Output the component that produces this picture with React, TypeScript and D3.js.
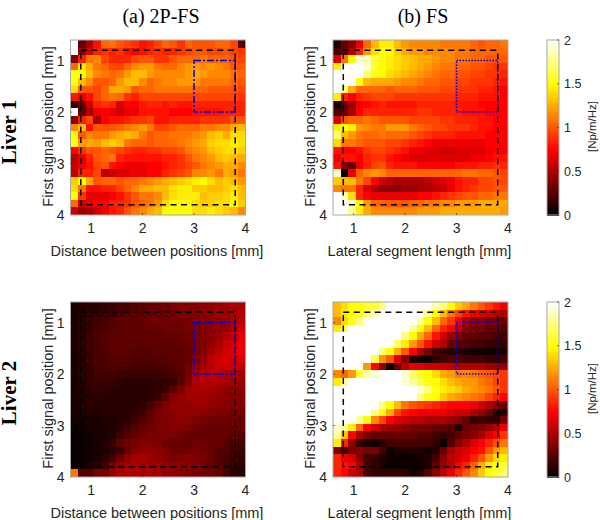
import React from "react";
import * as d3 from "d3";

const W = [2, 0];
const liver1A: number[][] = [
[2,.3,.5,.8,1.05,1.1,1,.95,.9,.8,.85,.95,1.05,1,.9,1.05,1,1,1,1.05,1.05,.95,.25],
[2,.4,.6,.85,.9,.85,.9,.8,.75,.8,.85,.9,.85,.85,.9,.95,1,1,.95,.95,1,.95,.9],
[.4,.85,1.1,1.15,.95,.85,.85,.85,.95,1,1,.9,.9,1,1.05,1.05,1.05,1.1,1.05,1.05,1.05,1,.95],
[1.05,1.45,1.25,1.1,1.05,.95,.95,1.05,1.15,1.2,1.2,1.1,1.05,1.05,1.15,1.2,1.2,1.15,1.2,1.15,1.1,1,1],
[1.55,1.5,1.3,1.15,1.1,1.05,1.1,1.2,1.3,1.3,1.2,1.15,1.15,1.15,1.15,1.2,1.25,1.2,1.15,1.15,1.15,1.1,1.05],
[1.55,1.3,1.15,1,1,1.05,1.2,1.3,1.3,1.15,1.05,1.1,1.15,1.15,1.2,1.2,1.2,1.1,1.1,1.1,1.1,1.05,1],
[1.4,1,1,.95,1.05,1.25,1.25,1.2,1,1.05,1.05,1.1,1.1,1.1,1.1,1.1,1.05,1.05,1,1,1,1,.95],
[.8,.7,.8,.95,1.05,1.1,1.05,.9,.85,.95,.95,.95,.95,.95,.95,.95,.95,.95,.95,.95,.95,.95,.9],
[.15,.3,.6,.85,.9,.85,.65,.75,.75,.8,.85,.85,.8,.85,.8,.8,.85,.85,.85,.85,.85,.85,.85],
[2,.3,.5,.7,.75,.7,.6,.7,.7,.8,.8,.8,.8,.75,.75,.75,.8,.8,.8,.8,.85,.85,.85],
[.4,.85,.95,.5,.75,.8,.8,.85,.9,.9,.95,.8,.8,.85,.85,.85,.85,.9,.9,.9,.9,1,1],
[1.15,1.3,.8,1,1,1,1.05,1.1,1.15,1.2,1.1,.95,.95,1,1.05,1.05,1.05,1.1,1.1,1.15,1.15,1.25,1.3],
[1.5,1,1.15,1.1,1.1,1.2,1.25,1.3,1.25,1.1,1,1.05,1.05,1.1,1.1,1.1,1.15,1.2,1.3,1.35,1.25,1.4,1.4],
[1.55,1.2,1.25,1.2,1.3,1.35,1.3,1.1,1.05,1.05,1,1.05,1.05,1.05,1.1,1.15,1.2,1.25,1.35,1.4,1.4,1.45,1.4],
[.75,.9,1,1,1.05,1,.95,.9,.85,.85,.9,.9,.95,.95,1,1.1,1.15,1.2,1.3,1.35,1.4,1.4,1.35],
[.55,.7,.85,1,1.05,1.1,.85,.8,.8,.8,.8,.8,.85,.85,.9,1,1.1,1.15,1.2,1.3,1.35,1.3,1.25],
[.6,.7,.8,.95,1,.8,.75,.7,.7,.7,.75,.75,.8,.85,.9,.95,1,1.1,1.15,1.2,1.25,1.25,1.15],
[.55,.85,.85,.95,.55,.6,.65,.65,.7,.7,.75,.75,.85,.9,.95,1,1.15,1.15,1.2,1.1,1.25,1.2,1.1],
[1.35,1.5,1.25,1,1.05,1.05,1,1.05,1.05,1.1,1.15,1.2,1.25,1.3,1.35,1.4,1.45,1.5,1.4,1.3,1.35,1.3,1.2],
[1.4,1.1,.8,.8,.85,.85,.95,1.05,1.15,1.25,1.25,1.3,1.3,1.4,1.45,1.45,1.35,1.35,1.3,1.3,1.35,1.4,1.3],
[1.5,.9,.7,.7,.7,.75,.8,.9,1,1.1,1.1,1.15,1.3,1.4,1.45,1.45,1.45,1.3,1.35,1.35,1.4,1.45,1.3],
[1.05,.6,.7,.75,.75,.85,.85,.9,1,1.05,1.1,1.2,1.4,1.5,1.5,1.5,1.4,1.35,1.35,1.4,1.4,1.5,1.35],
[.6,.45,.5,.6,.7,.8,.85,1,1.1,1.15,1.25,1.3,1.5,1.5,1.5,1.5,1.4,1.4,1.45,1.4,1.35,1.3,1.15],
];
const liver1B: number[][] = [
[.1,.3,.4,.7,1.05,1.3,1.45,1.45,1.3,1.2,1.15,1.15,1.15,1.15,1.1,1.1,1.1,1.1,1.05,1,1.05,1.05,1.1],
[.2,.3,.55,.85,1.2,1.4,1.5,1.5,1.35,1.25,1.2,1.2,1.15,1.15,1.15,1.15,1.1,1.1,1.05,1.05,1.05,1.05,1.05],
[.65,1.1,1.5,1.9,1.85,1.6,1.5,1.45,1.4,1.35,1.3,1.25,1.25,1.2,1.15,1.15,1.1,1.1,1.05,1.05,1,1,1],
[1.45,2,2,2,1.9,1.6,1.5,1.45,1.4,1.35,1.3,1.25,1.2,1.15,1.1,1.1,1.05,1.05,1,1,.95,.9,.9],
[2,2,2,2,1.75,1.55,1.5,1.4,1.35,1.3,1.25,1.2,1.15,1.1,1.05,1.05,1,1,.95,.95,.9,.9,.85],
[2,2,2,1.55,1.3,1.25,1.25,1.25,1.2,1.15,1.15,1.1,1.05,1.05,1,1,.95,.95,.9,.9,.9,.85,.8],
[2,1.7,1.25,1.05,1.05,1.05,1.05,1,1.05,1.05,1.05,1,1,1,.95,.95,.9,.9,.9,.85,.85,.8,.75],
[1.45,.85,.75,.85,.9,.95,.95,.95,.9,.9,.9,.9,.9,.9,.9,.9,.85,.85,.85,.8,.8,.8,.75],
[.05,.3,.45,.7,.75,.8,.85,.8,.8,.8,.8,.85,.85,.85,.85,.85,.8,.8,.8,.75,.75,.75,.75],
[.2,.3,.5,.75,.85,.85,.85,.85,.85,.85,.85,.9,.9,.85,.85,.85,.85,.8,.8,.8,.75,.75,.75],
[.65,1,1.05,1.05,1.1,1.05,1,1,1,1,.95,.95,.95,.95,.9,.9,.85,.85,.85,.8,.8,.75,.75],
[1.45,1.5,1.45,1.2,1.15,1.1,1.1,1.2,1.2,1.2,1.1,1.05,1,.95,.95,.9,.9,.9,.85,.8,.8,.75,.75],
[1.7,1.3,1.2,1.1,1.05,1.05,1.1,1.05,1.05,1.05,1,.95,.9,.85,.85,.85,.8,.8,.8,.8,.75,.75,.75],
[1.4,1.1,1.1,1.05,1,1,1,.95,.95,.9,.85,.8,.75,.7,.7,.7,.7,.7,.7,.7,.75,.75,.75],
[.8,.75,.75,.8,.9,.95,.95,.9,.85,.8,.7,.7,.65,.65,.6,.6,.65,.65,.65,.65,.7,.75,.75],
[.7,.8,.8,.75,.85,.9,.9,.8,.75,.7,.65,.65,.65,.65,.65,.65,.65,.65,.7,.7,.75,.8,.8],
[.8,.4,.3,.7,.85,.95,1,.85,.8,.8,.8,.75,.75,.75,.75,.75,.8,.8,.8,.85,.85,.9,.85],
[1.9,.05,.7,1.05,1.15,1.2,1.15,1.05,1.05,1.05,1.05,1.05,1.05,1.05,1.05,1.05,1.05,1.1,1.1,1.05,1.05,1,.95],
[1.35,1.3,1.3,1.1,.95,.75,.6,.55,.5,.5,.5,.5,.55,.6,.65,.7,.8,.85,.85,.95,.95,1,.95],
[1.15,1.1,1.1,.85,.65,.5,.4,.4,.4,.45,.45,.5,.5,.55,.6,.7,.8,.85,.9,.95,.95,1,1],
[2,1.85,1.4,.85,.75,.7,.7,.7,.7,.7,.7,.75,.75,.8,.85,.9,.95,1,1,1.05,1.05,1.1,1.1],
[2,2,1.9,1.5,1.2,1.05,1.05,1,1,1,1.05,1.05,1.1,1.1,1.15,1.15,1.2,1.2,1.2,1.25,1.25,1.25,1.25],
[2,2,1.8,1.45,1.25,1.15,1.15,1.15,1.15,1.15,1.15,1.2,1.2,1.2,1.25,1.25,1.25,1.25,1.25,1.25,1.25,1.25,1.2],
];
const liver2A: number[][] = [
[.08,.1,.12,.13,.15,.16,.2,.22,.25,.27,.3,.3,.33,.35,.38,.38,.38,.42,.42,.45,.47,.5,.5],
[.08,.1,.13,.15,.18,.18,.22,.25,.27,.28,.3,.3,.33,.33,.35,.35,.38,.4,.42,.45,.47,.5,.52],
[.08,.12,.15,.2,.22,.25,.27,.28,.28,.3,.3,.32,.33,.33,.33,.35,.37,.38,.42,.42,.45,.5,.55],
[.08,.12,.15,.2,.23,.25,.27,.28,.28,.28,.3,.3,.32,.32,.33,.35,.35,.37,.42,.42,.45,.5,.6],
[.08,.13,.18,.23,.25,.27,.27,.28,.28,.28,.28,.28,.3,.3,.3,.32,.35,.37,.4,.45,.52,.58,.68],
[.08,.13,.18,.22,.25,.27,.27,.27,.27,.27,.27,.28,.28,.28,.3,.3,.33,.37,.42,.5,.58,.62,.7],
[.08,.12,.17,.22,.23,.27,.27,.27,.25,.25,.25,.27,.27,.27,.27,.3,.33,.38,.48,.55,.62,.65,.7],
[.08,.12,.17,.22,.23,.25,.25,.25,.23,.23,.25,.25,.25,.27,.27,.3,.37,.43,.55,.6,.65,.62,.65],
[.08,.12,.15,.2,.22,.23,.23,.22,.2,.2,.2,.22,.22,.25,.27,.33,.42,.48,.55,.6,.6,.6,.55],
[.08,.12,.15,.2,.2,.2,.18,.18,.17,.17,.17,.18,.2,.22,.25,.35,.47,.52,.55,.52,.5,.5,.47],
[.08,.12,.15,.17,.17,.17,.15,.13,.13,.13,.13,.15,.15,.18,.27,.38,.5,.53,.52,.5,.47,.47,.45],
[.08,.1,.13,.15,.15,.13,.12,.12,.12,.12,.12,.13,.17,.27,.38,.45,.5,.5,.48,.45,.42,.4,.4],
[.08,.1,.12,.13,.13,.12,.12,.12,.12,.12,.13,.17,.28,.38,.43,.48,.47,.47,.45,.42,.4,.38,.38],
[.08,.1,.12,.12,.12,.12,.12,.12,.13,.15,.22,.3,.37,.42,.43,.43,.45,.45,.42,.42,.38,.38,.37],
[.07,.08,.1,.1,.12,.12,.12,.13,.13,.2,.28,.33,.38,.4,.43,.43,.42,.4,.38,.37,.35,.33,.33],
[.05,.07,.08,.08,.1,.1,.12,.13,.18,.25,.3,.35,.37,.4,.42,.4,.38,.35,.33,.33,.33,.33,.3],
[.03,.05,.07,.08,.08,.1,.13,.2,.25,.3,.33,.35,.37,.38,.38,.35,.33,.32,.3,.3,.3,.3,.3],
[.02,.03,.05,.07,.08,.1,.18,.25,.3,.33,.35,.35,.37,.35,.33,.3,.3,.3,.3,.3,.3,.27,.25],
[.02,.03,.05,.07,.1,.17,.27,.33,.35,.37,.38,.37,.33,.3,.3,.3,.32,.32,.3,.28,.25,.22,.2],
[.02,.03,.05,.08,.1,.13,.17,.3,.38,.42,.42,.4,.38,.33,.32,.33,.35,.33,.3,.25,.23,.2,.18],
[.02,.03,.05,.08,.12,.2,.3,.42,.48,.48,.45,.42,.38,.35,.38,.4,.37,.35,.3,.25,.2,.18,.15],
[.03,.05,.1,.13,.2,.35,.45,.48,.5,.48,.48,.47,.42,.4,.42,.4,.37,.33,.3,.25,.2,.15,.12],
[1.1,.25,.25,.35,.35,.45,.5,.52,.52,.5,.5,.48,.42,.42,.4,.38,.35,.33,.33,.28,.2,.12,.12],
];
const liver2B: number[][] = [
[1.3,1.4,1.5,1.5,1.6,1.6,1.75,2,2,2,2,2,2,1.85,1.75,1.5,1.35,1.25,1.1,1,.9,.8,.7],
[1.3,1.45,1.5,1.55,1.7,1.85,2,2,2,2,2,2,1.8,1.5,1.3,1.1,.95,.8,.7,.65,.6,.55,.5],
[1.15,1.4,1.55,1.75,2,2,2,2,2,2,2,1.8,1.5,1.3,1.05,.9,.75,.5,.4,.4,.35,.35,.3],
[1.45,1.65,2,2,2,2,2,2,2,2,1.8,1.5,1.3,1.05,.85,.75,.55,.4,.35,.35,.3,.3,.25],
[2,2,2,2,2,2,2,2,2,1.75,1.5,1.25,1.05,.8,.6,.45,.35,.3,.3,.25,.25,.2,.2],
[2,2,2,2,2,2,2,2,1.7,1.45,1.2,1,.8,.6,.5,.3,.25,.25,.2,.2,.15,.15,.15],
[2,2,2,2,2,2,1.75,1.5,1.25,1,.75,.5,.35,.2,.15,.12,.12,.1,.05,.05,.05,.07,.08],
[2,2,2,2,2,1.65,1.2,1,.65,.4,.1,.05,.05,.15,.2,.25,.25,.2,.2,.2,.15,.15,.2],
[2,2,2,2,1.2,.75,.4,.03,.3,.55,.65,.65,.6,.6,.6,.55,.5,.5,.5,.5,.45,.45,.4],
[1.15,1.05,1.2,1.6,1.85,1.9,2,2,2,1.9,1.7,1.55,1.5,1.4,1.25,1.2,1.1,1.15,1.1,1.05,1,.95,.9],
[1.45,1.8,2,2,2,2,2,2,2,1.9,1.8,1.65,1.55,1.5,1.4,1.3,1.25,1.2,1.2,1.1,1.05,.95,.9],
[2,2,2,2,2,2,2,2,2,2,2,1.9,1.75,1.55,1.45,1.4,1.35,1.25,1.2,1.15,1.1,1,.9],
[2,2,2,2,2,2,2,2,2,2,2,1.75,1.55,1.5,1.35,1.25,1.2,1.15,1.1,1.05,.95,.85,.75],
[2,2,2,2,2,2,1.75,1.5,1.3,1.1,1,.95,.9,.85,.8,.75,.75,.75,.7,.6,.5,.4,.3],
[2,2,2,2,2,1.75,1.5,1.25,.95,.8,.75,.7,.7,.7,.7,.65,.6,.6,.5,.4,.3,.1,.1],
[2,2,2,1.8,1.5,1.15,.95,.75,.65,.6,.55,.55,.5,.5,.5,.45,.4,.3,.15,.2,.15,.15,.35],
[1.9,1.8,1.45,1.05,.75,.6,.5,.45,.45,.4,.35,.35,.35,.3,.3,.25,.1,.3,.35,.4,.45,.55,.7],
[1.8,1.35,.75,.5,.35,.3,.3,.3,.3,.3,.3,.25,.25,.2,.15,.2,.3,.35,.4,.5,.65,.75,.9],
[1.45,.85,.4,.15,.08,.05,.12,.2,.2,.2,.2,.2,.2,.15,.02,.25,.4,.5,.65,.75,.85,1,1.1],
[.35,.2,.35,.4,.35,.35,.2,.05,.1,.1,.1,.1,.05,.1,.3,.5,.6,.65,.75,.8,1,1.2,1.3],
[.85,.7,.6,.4,.2,.15,.1,.05,.05,.02,.05,.05,.1,.2,.4,.55,.6,.7,.85,1,1.2,1.4,1.45],
[.85,.8,.75,.5,.2,.15,.1,.05,.05,.05,.05,.05,.1,.3,.45,.55,.75,.85,1.05,1.25,1.45,1.55,1.6],
[.85,.75,.6,.5,.2,.15,.15,.15,.15,.15,.05,.1,.25,.4,.55,.7,.85,1,1.15,1.35,1.5,1.6,1.7],
];

const axisTicks = [1, 2, 3, 4];
const colorTicks = [0, 0.5, 1, 1.5, 2];
const colorTickLabels = ["0", "0.5", "1", "1.5", "2"];
const columnTitles = ["(a) 2P-FS", "(b) FS"];
const rowTitles = ["Liver 1", "Liver 2"];
const xLabels = ["Distance between positions [mm]", "Lateral segment length [mm]"];
const yLabel = "First signal position [mm]";
const unitLabel = "[Np/m/Hz]";
const domainMm = [0.6, 4];
const dashedBox = [0.8, 3.8, 0.8, 3.8];
const blueBox = [3, 3.8, 1, 2];
const hotStops = [0, 0.75, 1.5, 2];
const hotColors = ["#000000", "#ff0000", "#ffff00", "#ffffff"];

const SANS = "'Liberation Sans', Arial, sans-serif";
const SERIF = "'Liberation Serif', 'Times New Roman', serif";
const TEXT = "#262626";
const FRAME = "#a8a8a8";
const SIZE = 175;

const color = d3.scaleLinear<string>().domain(hotStops).range(hotColors).clamp(true);

function Heat({ data, x0, y0, xLabel, dash }: { data: number[][]; x0: number; y0: number; xLabel: string; dash: string }) {
  const x = d3.scaleLinear().domain(domainMm).range([x0, x0 + SIZE]);
  const y = d3.scaleLinear().domain(domainMm).range([y0, y0 + SIZE]);
  const bx = d3.scaleBand<number>().domain(d3.range(data[0].length)).range([x0, x0 + SIZE]);
  const by = d3.scaleBand<number>().domain(d3.range(data.length)).range([y0, y0 + SIZE]);
  return (
    <g>
      <g shapeRendering="crispEdges">
        {data.flatMap((row, r) =>
          row.map((v, c) => (
            <rect key={r + "-" + c} x={bx(c)} y={by(r)} width={bx.bandwidth() + 0.4} height={by.bandwidth() + 0.4} fill={color(v)} />
          ))
        )}
      </g>
      <rect x={x0} y={y0} width={SIZE} height={SIZE} fill="none" stroke={FRAME} strokeWidth={1} />
      {axisTicks.slice(0, 3).map((t) => (
        <g key={t} stroke={TEXT} strokeWidth={0.6}>
          <line x1={x(t)} x2={x(t)} y1={y0 + SIZE} y2={y0 + SIZE - 2} />
          <line x1={x0} x2={x0 + 2} y1={y(t)} y2={y(t)} />
        </g>
      ))}
      <rect
        x={x(dashedBox[0])}
        y={y(dashedBox[2])}
        width={x(dashedBox[1]) - x(dashedBox[0])}
        height={y(dashedBox[3]) - y(dashedBox[2])}
        fill="none"
        stroke="#000"
        strokeWidth={1.5}
        strokeDasharray="6 4.5"
      />
      <rect
        x={x(blueBox[0])}
        y={y(blueBox[2])}
        width={x(blueBox[1]) - x(blueBox[0])}
        height={y(blueBox[3]) - y(blueBox[2])}
        fill="none"
        stroke="#0000f0"
        strokeWidth={1.5}
        strokeDasharray={dash}
      />
      {axisTicks.map((t) => (
        <text key={"x" + t} x={x(t)} y={y0 + SIZE + 18} textAnchor="middle" fontFamily={SANS} fontSize={14} fill={TEXT}>
          {t}
        </text>
      ))}
      {axisTicks.map((t) => (
        <text key={"y" + t} x={x0 - 6} y={y(t) + 5} textAnchor="end" fontFamily={SANS} fontSize={14} fill={TEXT}>
          {t}
        </text>
      ))}
      <text x={x0 + SIZE / 2 - 1} y={y0 + SIZE + 41} textAnchor="middle" fontFamily={SANS} fontSize={14.5} fill={TEXT}>
        {xLabel}
      </text>
      <text
        transform={`translate(${x0 - 18},${y0 + SIZE / 2 - 1}) rotate(-90)`}
        textAnchor="middle"
        fontFamily={SANS}
        fontSize={14.5}
        fill={TEXT}
      >
        {yLabel}
      </text>
    </g>
  );
}

function ColorBar({ x0, y0 }: { x0: number; y0: number }) {
  const barW = 12;
  const y = d3.scaleLinear().domain([0, 2]).range([y0 + SIZE, y0]);
  const levels = d3.range(64).map((i) => ((i + 0.5) / 64) * 2);
  const h = SIZE / 64;
  return (
    <g>
      <g shapeRendering="crispEdges">
        {levels.map((v) => (
          <rect key={v} x={x0} y={y(v) - h / 2} width={barW} height={h + 0.5} fill={color(v)} />
        ))}
      </g>
      <rect x={x0} y={y0} width={barW} height={SIZE} fill="none" stroke={FRAME} strokeWidth={1} />
      {colorTicks.map((t, i) => (
        <g key={t}>
          <line x1={x0 + barW - 2} x2={x0 + barW} y1={y(t)} y2={y(t)} stroke={TEXT} strokeWidth={0.6} />
          <text x={x0 + barW + 5} y={y(t) + 4.5} fontFamily={SANS} fontSize={12.5} fill={TEXT}>
            {colorTickLabels[i]}
          </text>
        </g>
      ))}
      <text
        transform={`translate(${x0 + barW + 37},${y0 + SIZE / 2 - 1}) rotate(-90)`}
        textAnchor="middle"
        fontFamily={SANS}
        fontSize={11.5}
        fill={TEXT}
      >
        {unitLabel}
      </text>
    </g>
  );
}

export default function App() {
  const xA = 70.5;
  const xB = 333;
  const yTop = 40;
  const yBottom = 302;
  return (
    <svg width={600} height={520} style={{ position: "absolute", left: 0, top: 0, background: "#fff" }}>
      <text x={161} y={23} textAnchor="middle" fontFamily={SERIF} fontSize={20} fill="#000">
        {columnTitles[0]}
      </text>
      <text x={423} y={23} textAnchor="middle" fontFamily={SERIF} fontSize={20} fill="#000">
        {columnTitles[1]}
      </text>
      <text transform="translate(16,132) rotate(-90)" textAnchor="middle" fontFamily={SERIF} fontSize={21} fontWeight="bold" fill="#000">
        {rowTitles[0]}
      </text>
      <text transform="translate(16,393) rotate(-90)" textAnchor="middle" fontFamily={SERIF} fontSize={21} fontWeight="bold" fill="#000">
        {rowTitles[1]}
      </text>
      <Heat data={liver1A} x0={xA} y0={yTop} xLabel={xLabels[0]} dash="7 2 2 2" />
      <Heat data={liver1B} x0={xB} y0={yTop} xLabel={xLabels[1]} dash="1.5 1.5" />
      <Heat data={liver2A} x0={xA} y0={yBottom} xLabel={xLabels[0]} dash="7 2 2 2" />
      <Heat data={liver2B} x0={xB} y0={yBottom} xLabel={xLabels[1]} dash="1.5 1.5" />
      <ColorBar x0={547} y0={yTop} />
      <ColorBar x0={547} y0={yBottom} />
    </svg>
  );
}
